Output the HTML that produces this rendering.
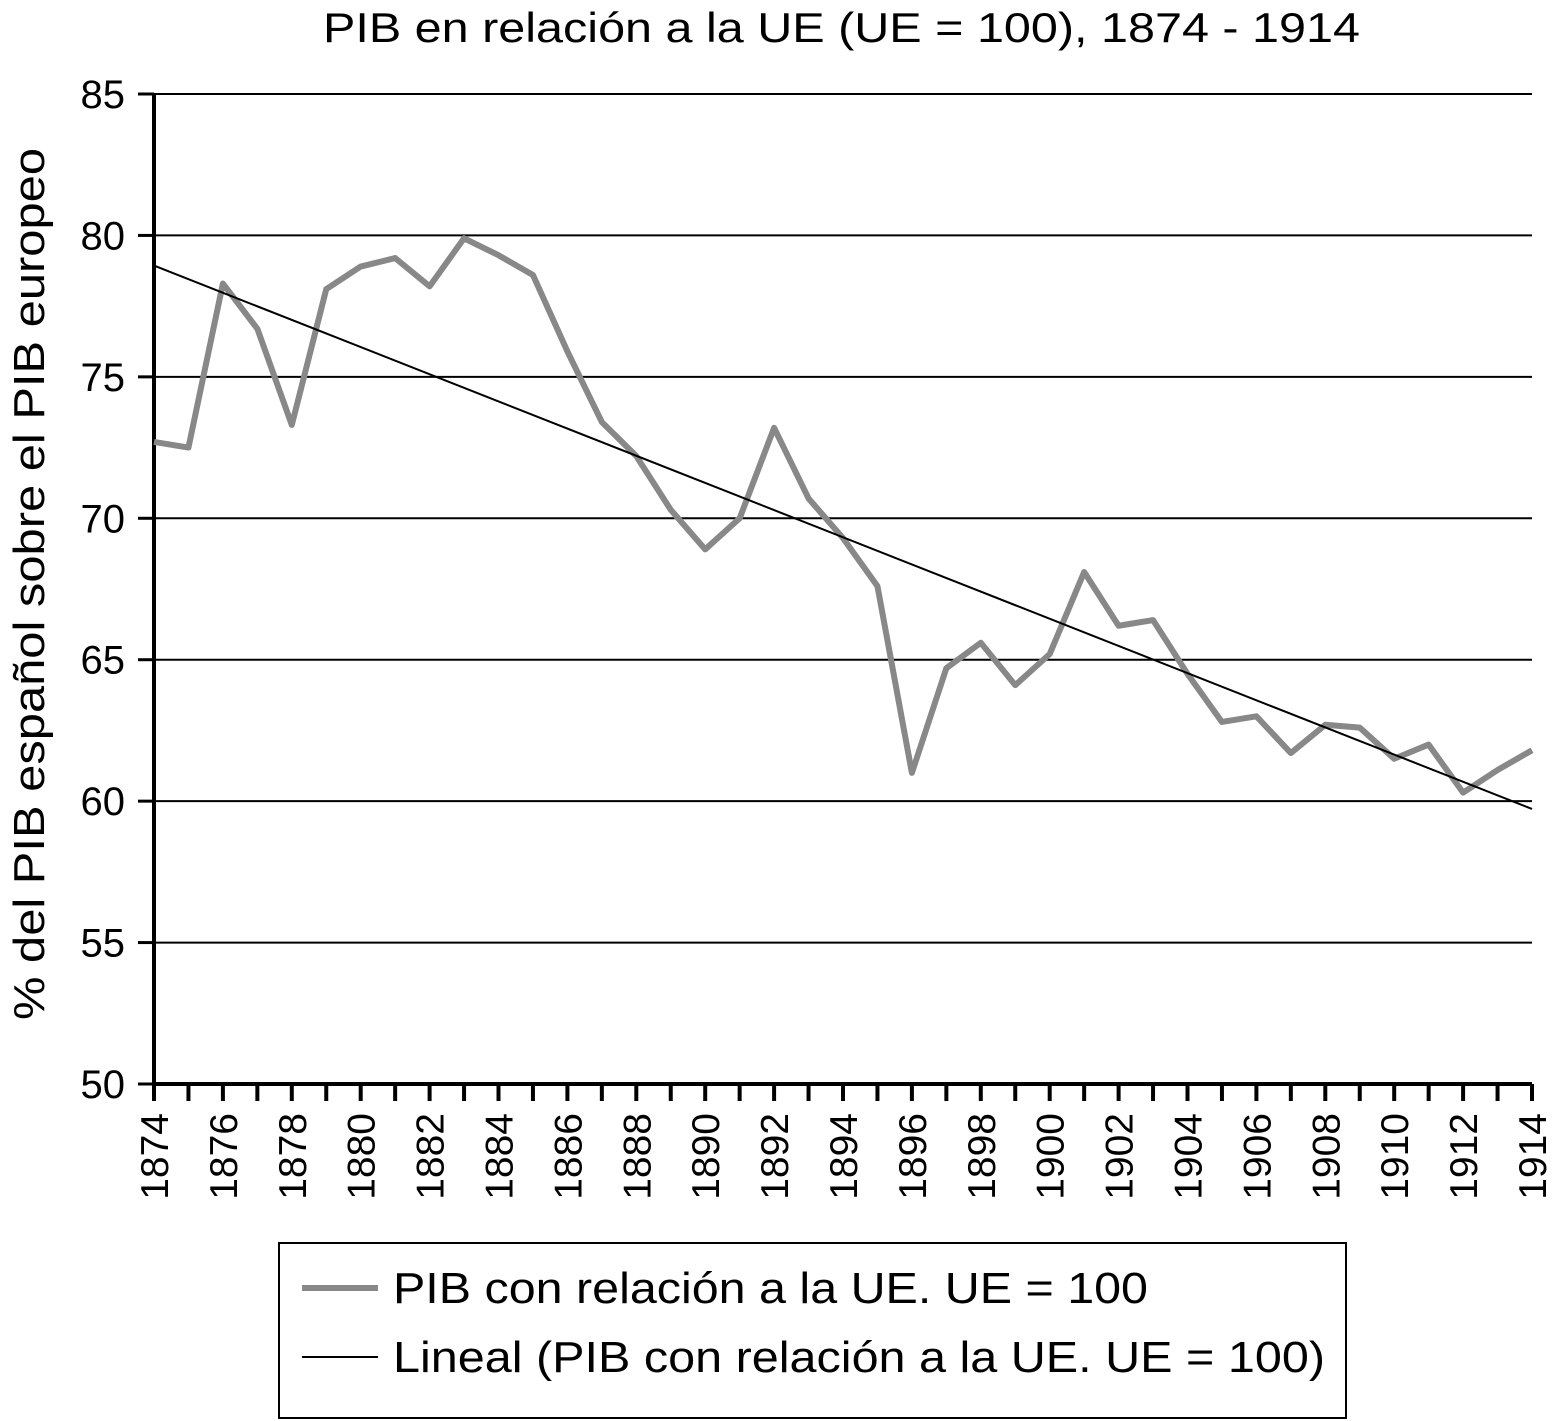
<!DOCTYPE html>
<html><head><meta charset="utf-8"><style>
body{margin:0;background:#fff}
svg{display:block;font-family:"Liberation Sans",sans-serif}
</style></head><body>
<svg id="chart" width="1556" height="1421">
<text x="323" y="42" font-size="42" textLength="1037" lengthAdjust="spacingAndGlyphs">PIB en relación a la UE (UE = 100), 1874 - 1914</text>
<text transform="translate(44,1020) rotate(-90)" font-size="44" textLength="872" lengthAdjust="spacingAndGlyphs">% del PIB español sobre el PIB europeo</text>
<g id="grid"></g><g id="series"></g>
<rect x="279" y="1243" width="1067" height="175" fill="none" stroke="#000" stroke-width="2"/>
<line x1="302" y1="1288" x2="378" y2="1288" stroke="#888" stroke-width="6"/>
<text x="393" y="1303" font-size="44" textLength="755" lengthAdjust="spacingAndGlyphs">PIB con relación a la UE. UE = 100</text>
<line x1="302" y1="1357" x2="378" y2="1357" stroke="#000" stroke-width="2"/>
<text x="393" y="1372" font-size="44" textLength="932" lengthAdjust="spacingAndGlyphs">Lineal (PIB con relación a la UE. UE = 100)</text>
</svg>
<script>
const years=[1874,1875,1876,1877,1878,1879,1880,1881,1882,1883,1884,1885,1886,1887,1888,1889,1890,1891,1892,1893,1894,1895,1896,1897,1898,1899,1900,1901,1902,1903,1904,1905,1906,1907,1908,1909,1910,1911,1912,1913,1914];
const pib=[72.7,72.5,78.3,76.7,73.3,78.1,78.9,79.2,78.2,79.9,79.3,78.6,75.9,73.4,72.2,70.3,68.9,70.0,73.2,70.7,69.3,67.6,61.0,64.7,65.6,64.1,65.2,68.1,66.2,66.4,64.5,62.8,63.0,61.7,62.7,62.6,61.5,62.0,60.3,61.1,61.8];
const yTicks=[50,55,60,65,70,75,80,85];
const ns="http://www.w3.org/2000/svg";
const X=y=>154+(y-1874)*(1532-154)/40;
const Y=v=>1084-(v-50)*(1084-94)/35;
const grid=document.getElementById('grid'),ser=document.getElementById('series');
function mk(tag,attrs,parent){const e=document.createElementNS(ns,tag);for(const k in attrs)e.setAttribute(k,attrs[k]);parent.appendChild(e);return e;}
yTicks.forEach(t=>{
 if(t>50){const l=mk('line',{x1:154,x2:1532,y1:Y(t),y2:Y(t),stroke:'#000','stroke-width':2},grid);
 
 }
 const tk=mk('line',{x1:138,x2:154,y1:Y(t),y2:Y(t),stroke:'#000','stroke-width':3},grid);
 
 
 const tx=mk('text',{x:125,y:Y(t)+14,'font-size':40,'text-anchor':'end'},grid);tx.textContent=t;
 
 
});
years.forEach((yr,i)=>{
 const tk=mk('line',{x1:X(yr),x2:X(yr),y1:1084,y2:1101,stroke:'#000','stroke-width':4},grid);
 
 
 if(i%2===0){const tx=mk('text',{transform:`translate(${X(yr)+14},1113) rotate(-90)`,'font-size':39,'text-anchor':'end'},grid);tx.textContent=yr;
 
 }
});
const ax=mk('path',{d:`M154 94V1084H1532`,fill:'none',stroke:'#000','stroke-width':4},grid);


const p=mk('polyline',{points:years.map((y,i)=>X(y)+','+Y(pib[i])).join(' '),fill:'none',stroke:'#888','stroke-width':6,'stroke-linejoin':'round'},ser);


const n=years.length,mx=years.reduce((a,b)=>a+b)/n,my=pib.reduce((a,b)=>a+b)/n;
let sxy=0,sxx=0;years.forEach((y,i)=>{sxy+=(y-mx)*(pib[i]-my);sxx+=(y-mx)**2;});
const b=sxy/sxx,a=my-b*mx,y0=years[0],y1=years[n-1];
const tr=mk('line',{x1:X(y0),y1:Y(a+b*y0),x2:X(y1),y2:Y(a+b*y1),stroke:'#000','stroke-width':2},ser);


</script>
</body></html>
